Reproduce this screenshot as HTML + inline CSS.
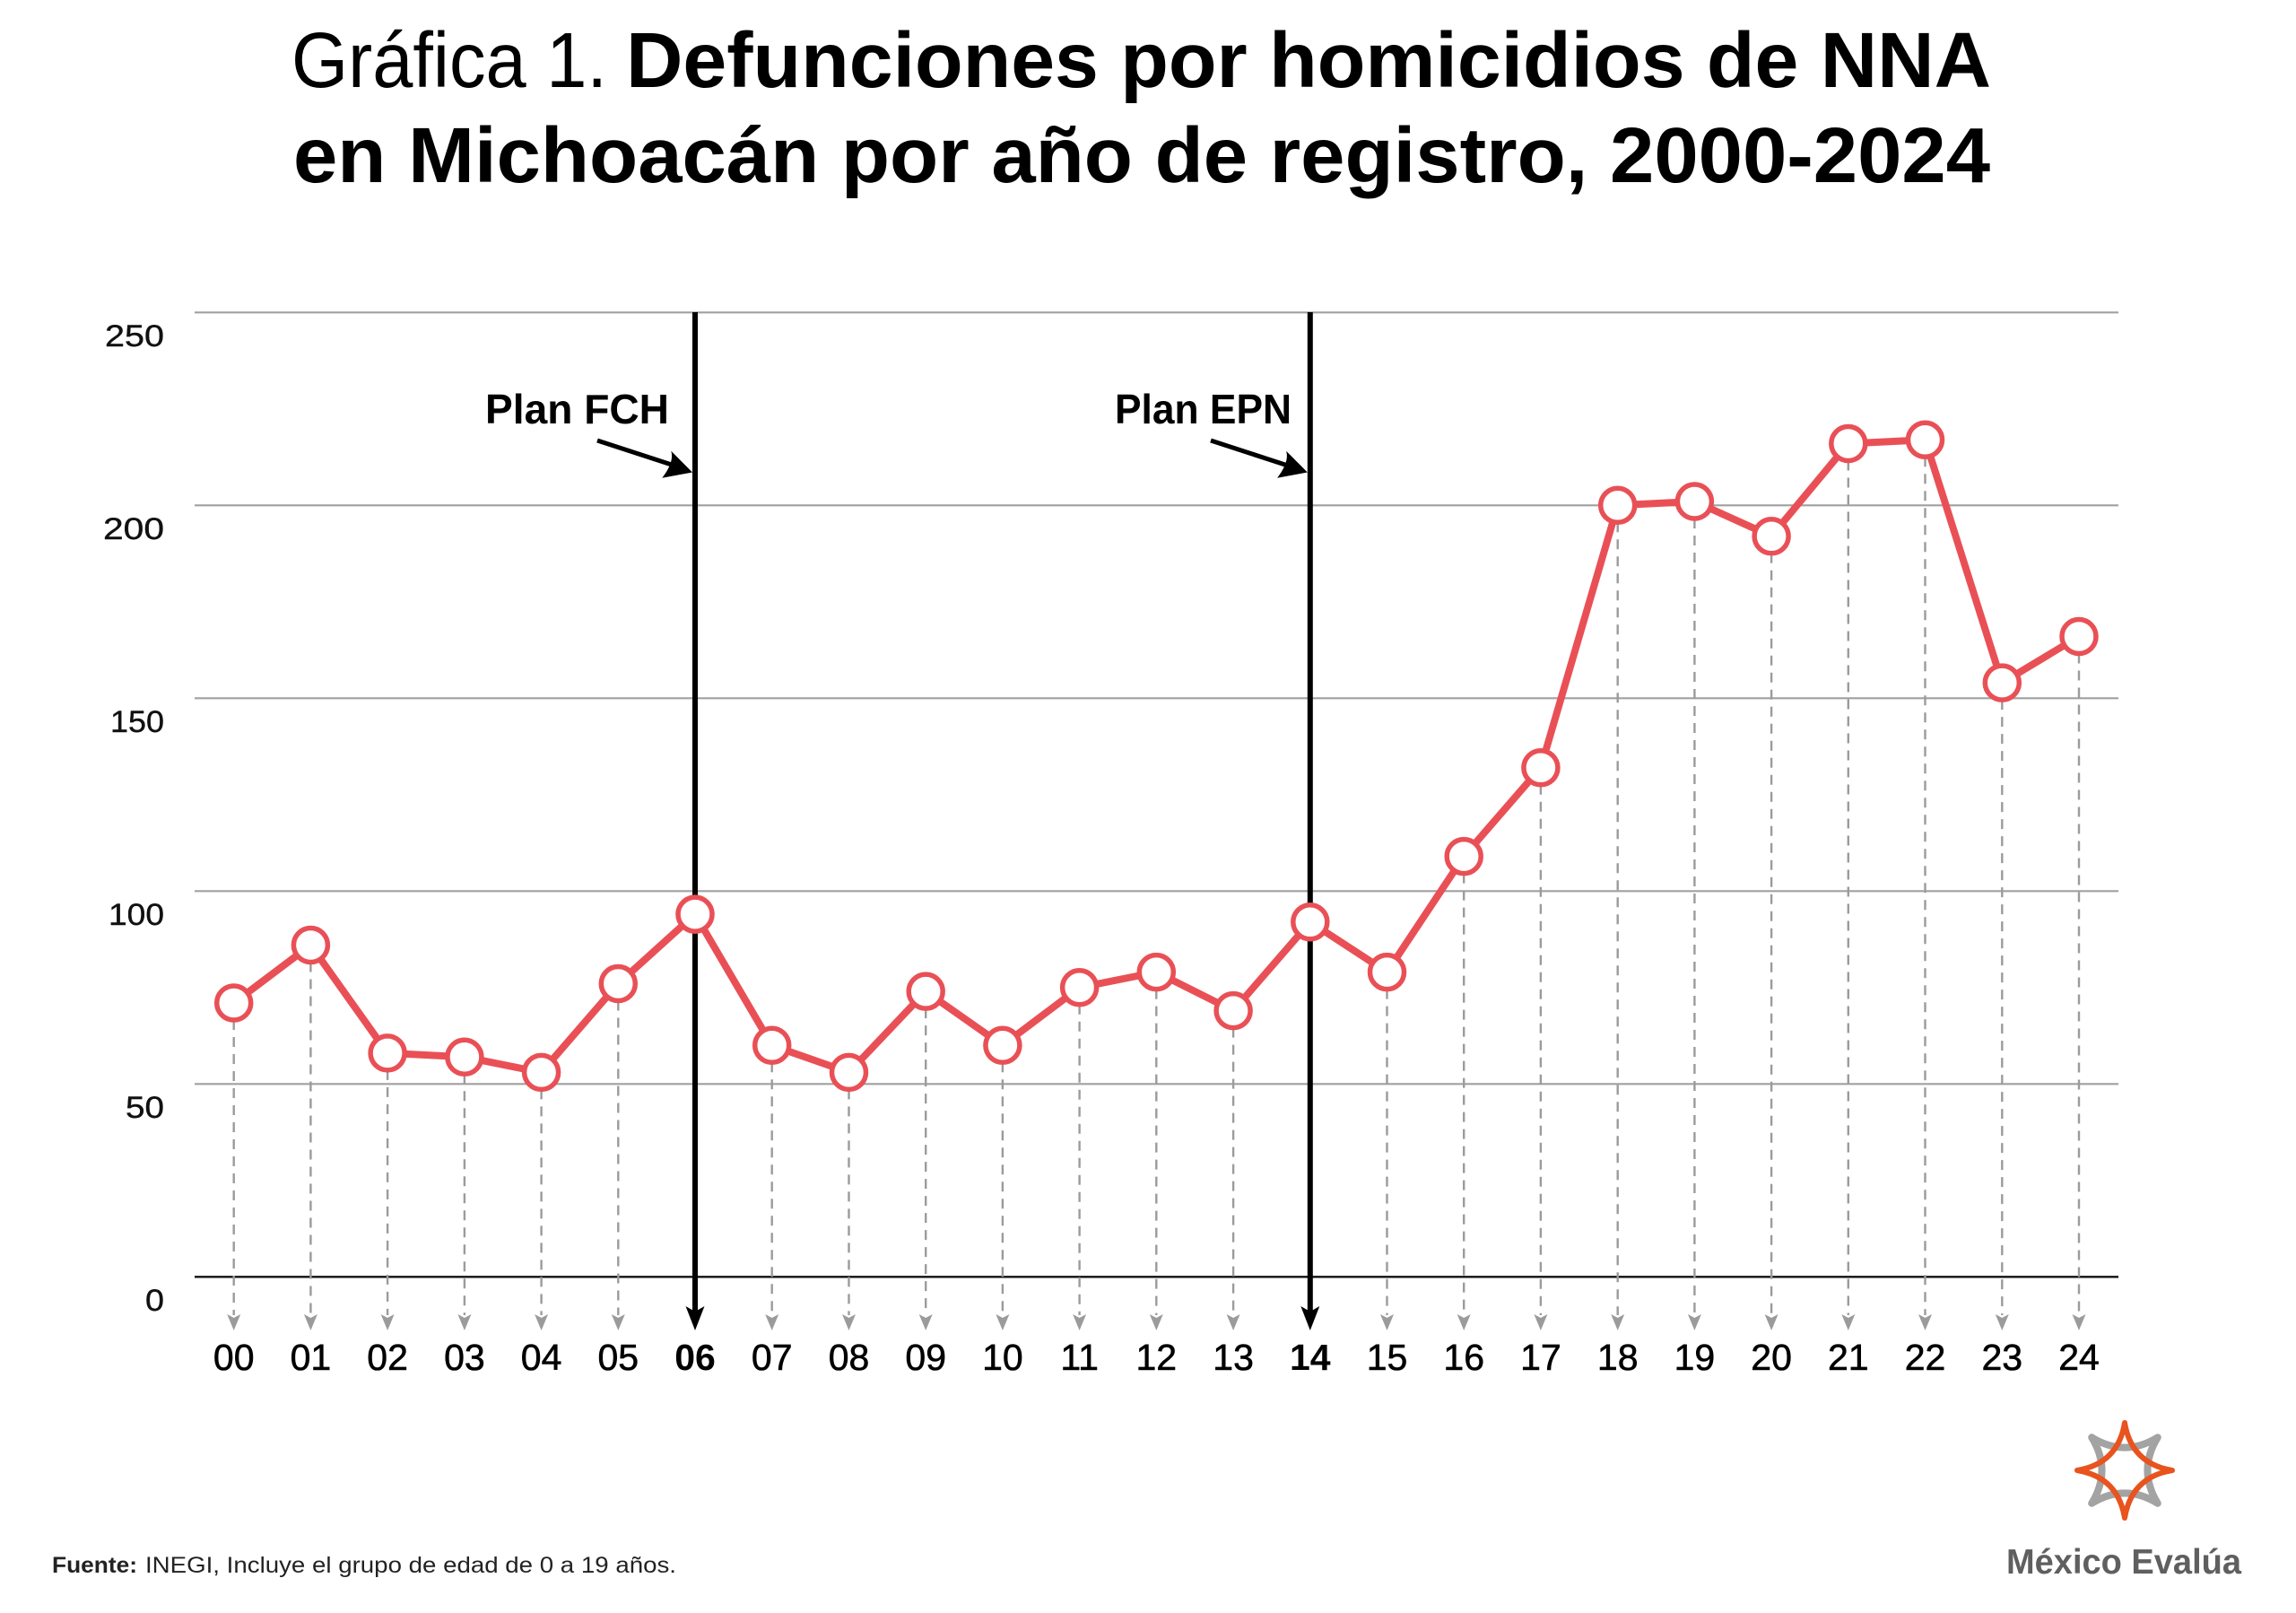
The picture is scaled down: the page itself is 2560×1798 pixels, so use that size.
<!DOCTYPE html>
<html>
<head>
<meta charset="utf-8">
<style>
  html, body { margin:0; padding:0; background:#fff; }
  svg { display:block; }
  text { font-family: "Liberation Sans", Arial, sans-serif; }
</style>
</head>
<body>
<svg width="2560" height="1798" viewBox="0 0 2560 1798" xmlns="http://www.w3.org/2000/svg">
  <rect x="0" y="0" width="2560" height="1798" fill="#ffffff"/>

  <!-- Title -->
  <text x="325" y="97" font-size="87" font-weight="normal" fill="#000" textLength="352" lengthAdjust="spacingAndGlyphs">Gráfica 1.</text>
  <text x="698" y="97" font-size="87" font-weight="bold" fill="#000" textLength="1522" lengthAdjust="spacingAndGlyphs">Defunciones por homicidios de NNA</text>
  <text x="327" y="203" font-size="87" font-weight="bold" fill="#000" textLength="1892" lengthAdjust="spacingAndGlyphs">en Michoacán por año de registro, 2000-2024</text>

  <!-- Gridlines -->
  <g stroke="#a0a0a0" stroke-width="2.2">
    <line x1="217" y1="348.3" x2="2362" y2="348.3"/>
    <line x1="217" y1="563.3" x2="2362" y2="563.3"/>
    <line x1="217" y1="778.3" x2="2362" y2="778.3"/>
    <line x1="217" y1="993.3" x2="2362" y2="993.3"/>
    <line x1="217" y1="1208.3" x2="2362" y2="1208.3"/>
  </g>
  <line x1="217" y1="1423.3" x2="2362" y2="1423.3" stroke="#111" stroke-width="2.4"/>

  <!-- Y labels -->
  <g font-size="34" fill="#111" stroke="#111" stroke-width="0.4" text-anchor="end">
    <text x="183" y="386" textLength="66" lengthAdjust="spacingAndGlyphs">250</text>
    <text x="183" y="601" textLength="68" lengthAdjust="spacingAndGlyphs">200</text>
    <text x="183" y="816" textLength="60" lengthAdjust="spacingAndGlyphs">150</text>
    <text x="183" y="1031" textLength="62" lengthAdjust="spacingAndGlyphs">100</text>
    <text x="183" y="1246" textLength="43" lengthAdjust="spacingAndGlyphs">50</text>
    <text x="183" y="1461" textLength="21" lengthAdjust="spacingAndGlyphs">0</text>
  </g>

  <!-- Dashed drop lines -->
  <g stroke="#9b9b9b" stroke-width="2.4" stroke-dasharray="11 8">
    <line x1="260.7" y1="1118.0" x2="260.7" y2="1466"/>
    <line x1="346.4" y1="1053.5" x2="346.4" y2="1466"/>
    <line x1="432.1" y1="1173.9" x2="432.1" y2="1466"/>
    <line x1="517.9" y1="1178.2" x2="517.9" y2="1466"/>
    <line x1="603.6" y1="1195.4" x2="603.6" y2="1466"/>
    <line x1="689.3" y1="1096.5" x2="689.3" y2="1466"/>
    <line x1="860.7" y1="1165.3" x2="860.7" y2="1466"/>
    <line x1="946.5" y1="1195.4" x2="946.5" y2="1466"/>
    <line x1="1032.2" y1="1105.1" x2="1032.2" y2="1466"/>
    <line x1="1117.9" y1="1165.3" x2="1117.9" y2="1466"/>
    <line x1="1203.6" y1="1100.8" x2="1203.6" y2="1466"/>
    <line x1="1289.3" y1="1083.6" x2="1289.3" y2="1466"/>
    <line x1="1375.1" y1="1126.6" x2="1375.1" y2="1466"/>
    <line x1="1546.5" y1="1083.6" x2="1546.5" y2="1466"/>
    <line x1="1632.2" y1="954.6" x2="1632.2" y2="1466"/>
    <line x1="1717.9" y1="855.7" x2="1717.9" y2="1466"/>
    <line x1="1803.7" y1="563.3" x2="1803.7" y2="1466"/>
    <line x1="1889.4" y1="559.0" x2="1889.4" y2="1466"/>
    <line x1="1975.1" y1="597.7" x2="1975.1" y2="1466"/>
    <line x1="2060.8" y1="494.5" x2="2060.8" y2="1466"/>
    <line x1="2146.5" y1="490.2" x2="2146.5" y2="1466"/>
    <line x1="2232.3" y1="761.1" x2="2232.3" y2="1466"/>
    <line x1="2318.0" y1="709.5" x2="2318.0" y2="1466"/>
  </g>
  <!-- Gray arrowheads -->
  <g fill="#9b9b9b">
    <path d="M253.2,1465 L260.7,1483 L268.2,1465 L260.7,1469 Z"/>
    <path d="M338.9,1465 L346.4,1483 L353.9,1465 L346.4,1469 Z"/>
    <path d="M424.6,1465 L432.1,1483 L439.6,1465 L432.1,1469 Z"/>
    <path d="M510.4,1465 L517.9,1483 L525.4,1465 L517.9,1469 Z"/>
    <path d="M596.1,1465 L603.6,1483 L611.1,1465 L603.6,1469 Z"/>
    <path d="M681.8,1465 L689.3,1483 L696.8,1465 L689.3,1469 Z"/>
    <path d="M853.2,1465 L860.7,1483 L868.2,1465 L860.7,1469 Z"/>
    <path d="M939.0,1465 L946.5,1483 L954.0,1465 L946.5,1469 Z"/>
    <path d="M1024.7,1465 L1032.2,1483 L1039.7,1465 L1032.2,1469 Z"/>
    <path d="M1110.4,1465 L1117.9,1483 L1125.4,1465 L1117.9,1469 Z"/>
    <path d="M1196.1,1465 L1203.6,1483 L1211.1,1465 L1203.6,1469 Z"/>
    <path d="M1281.8,1465 L1289.3,1483 L1296.8,1465 L1289.3,1469 Z"/>
    <path d="M1367.6,1465 L1375.1,1483 L1382.6,1465 L1375.1,1469 Z"/>
    <path d="M1539.0,1465 L1546.5,1483 L1554.0,1465 L1546.5,1469 Z"/>
    <path d="M1624.7,1465 L1632.2,1483 L1639.7,1465 L1632.2,1469 Z"/>
    <path d="M1710.4,1465 L1717.9,1483 L1725.4,1465 L1717.9,1469 Z"/>
    <path d="M1796.2,1465 L1803.7,1483 L1811.2,1465 L1803.7,1469 Z"/>
    <path d="M1881.9,1465 L1889.4,1483 L1896.9,1465 L1889.4,1469 Z"/>
    <path d="M1967.6,1465 L1975.1,1483 L1982.6,1465 L1975.1,1469 Z"/>
    <path d="M2053.3,1465 L2060.8,1483 L2068.3,1465 L2060.8,1469 Z"/>
    <path d="M2139.0,1465 L2146.5,1483 L2154.0,1465 L2146.5,1469 Z"/>
    <path d="M2224.8,1465 L2232.3,1483 L2239.8,1465 L2232.3,1469 Z"/>
    <path d="M2310.5,1465 L2318.0,1483 L2325.5,1465 L2318.0,1469 Z"/>
  </g>

  <!-- Black vertical event lines -->
  <g stroke="#000" stroke-width="6">
    <line x1="775.0" y1="348" x2="775.0" y2="1464"/>
    <line x1="1460.8" y1="348" x2="1460.8" y2="1464"/>
  </g>
  <g fill="#000">
    <path d="M764.5,1456 L775.0,1483 L785.5,1456 L775.0,1462 Z"/>
    <path d="M1450.3,1456 L1460.8,1483 L1471.3,1456 L1460.8,1462 Z"/>
  </g>

  <!-- Annotations -->
  <g font-size="46" font-weight="bold" fill="#000" text-anchor="end">
    <text x="746" y="472" textLength="205" lengthAdjust="spacingAndGlyphs">Plan FCH</text>
    <text x="1440" y="472" textLength="197" lengthAdjust="spacingAndGlyphs">Plan EPN</text>
  </g>
  <g stroke="#000" stroke-width="5" stroke-linecap="butt">
    <line x1="666" y1="491" x2="755" y2="520"/>
    <line x1="1350" y1="491" x2="1439" y2="520"/>
  </g>
  <g fill="#000">
    <path d="M772,526.5 L748.3,502.7 Q752,515 738.3,532.7 Z"/>
    <path d="M1457.8,526.5 L1434.1,502.7 Q1437.8,515 1424.1,532.7 Z"/>
  </g>

  <!-- Data line -->
  <polyline fill="none" stroke="#E95056" stroke-width="8" stroke-linejoin="round" stroke-linecap="round"
    points="260.7,1118.0 346.4,1053.5 432.1,1173.9 517.9,1178.2 603.6,1195.4 689.3,1096.5 775.0,1019.1 860.7,1165.3 946.5,1195.4 1032.2,1105.1 1117.9,1165.3 1203.6,1100.8 1289.3,1083.6 1375.1,1126.6 1460.8,1027.7 1546.5,1083.6 1632.2,954.6 1717.9,855.7 1803.7,563.3 1889.4,559.0 1975.1,597.7 2060.8,494.5 2146.5,490.2 2232.3,761.1 2318.0,709.5"/>
  <g fill="#fff" stroke="#E95056" stroke-width="5.5">
    <circle cx="260.7" cy="1118.0" r="19"/>
    <circle cx="346.4" cy="1053.5" r="19"/>
    <circle cx="432.1" cy="1173.9" r="19"/>
    <circle cx="517.9" cy="1178.2" r="19"/>
    <circle cx="603.6" cy="1195.4" r="19"/>
    <circle cx="689.3" cy="1096.5" r="19"/>
    <circle cx="775.0" cy="1019.1" r="19"/>
    <circle cx="860.7" cy="1165.3" r="19"/>
    <circle cx="946.5" cy="1195.4" r="19"/>
    <circle cx="1032.2" cy="1105.1" r="19"/>
    <circle cx="1117.9" cy="1165.3" r="19"/>
    <circle cx="1203.6" cy="1100.8" r="19"/>
    <circle cx="1289.3" cy="1083.6" r="19"/>
    <circle cx="1375.1" cy="1126.6" r="19"/>
    <circle cx="1460.8" cy="1027.7" r="19"/>
    <circle cx="1546.5" cy="1083.6" r="19"/>
    <circle cx="1632.2" cy="954.6" r="19"/>
    <circle cx="1717.9" cy="855.7" r="19"/>
    <circle cx="1803.7" cy="563.3" r="19"/>
    <circle cx="1889.4" cy="559.0" r="19"/>
    <circle cx="1975.1" cy="597.7" r="19"/>
    <circle cx="2060.8" cy="494.5" r="19"/>
    <circle cx="2146.5" cy="490.2" r="19"/>
    <circle cx="2232.3" cy="761.1" r="19"/>
    <circle cx="2318.0" cy="709.5" r="19"/>
  </g>

  <!-- X labels -->
  <g font-size="41" fill="#000" text-anchor="middle">
    <g stroke="#000" stroke-width="0.6">
      <text x="260.7" y="1527">00</text>
      <text x="346.4" y="1527">01</text>
      <text x="432.1" y="1527">02</text>
      <text x="517.9" y="1527">03</text>
      <text x="603.6" y="1527">04</text>
      <text x="689.3" y="1527">05</text>
      <text x="860.7" y="1527">07</text>
      <text x="946.5" y="1527">08</text>
      <text x="1032.2" y="1527">09</text>
      <text x="1117.9" y="1527">10</text>
      <text x="1203.6" y="1527">11</text>
      <text x="1289.3" y="1527">12</text>
      <text x="1375.1" y="1527">13</text>
      <text x="1546.5" y="1527">15</text>
      <text x="1632.2" y="1527">16</text>
      <text x="1717.9" y="1527">17</text>
      <text x="1803.7" y="1527">18</text>
      <text x="1889.4" y="1527">19</text>
      <text x="1975.1" y="1527">20</text>
      <text x="2060.8" y="1527">21</text>
      <text x="2146.5" y="1527">22</text>
      <text x="2232.3" y="1527">23</text>
      <text x="2318.0" y="1527">24</text>
    </g>
    <text x="775.0" y="1527" font-weight="bold">06</text>
    <text x="1460.8" y="1527" font-weight="bold">14</text>
  </g>

  <!-- Footer -->
  <text x="58" y="1753" font-size="25" font-weight="bold" fill="#222" textLength="95" lengthAdjust="spacingAndGlyphs">Fuente:</text>
  <text x="162" y="1753" font-size="25" fill="#222" textLength="592" lengthAdjust="spacingAndGlyphs">INEGI, Incluye el grupo de edad de 0 a 19 años.</text>

  <!-- Logo -->
  <g transform="translate(2369,1639)">
    <path transform="rotate(45)" d="M0,-52 Q10,-10 52,0 Q10,10 0,52 Q-10,10 -52,0 Q-10,-10 0,-52 Z" fill="none" stroke="#a3a3a3" stroke-width="8" stroke-linejoin="round"/>
    <path d="M0,-53 Q7.5,-7.5 53,0 Q7.5,7.5 0,53 Q-7.5,7.5 -53,0 Q-7.5,-7.5 0,-53 Z" fill="none" stroke="#E8531E" stroke-width="6" stroke-linejoin="round"/>
  </g>
  <text x="2237" y="1754" font-size="39" font-weight="bold" fill="#5f5f5f" textLength="262" lengthAdjust="spacingAndGlyphs">México Evalúa</text>
</svg>
</body>
</html>
